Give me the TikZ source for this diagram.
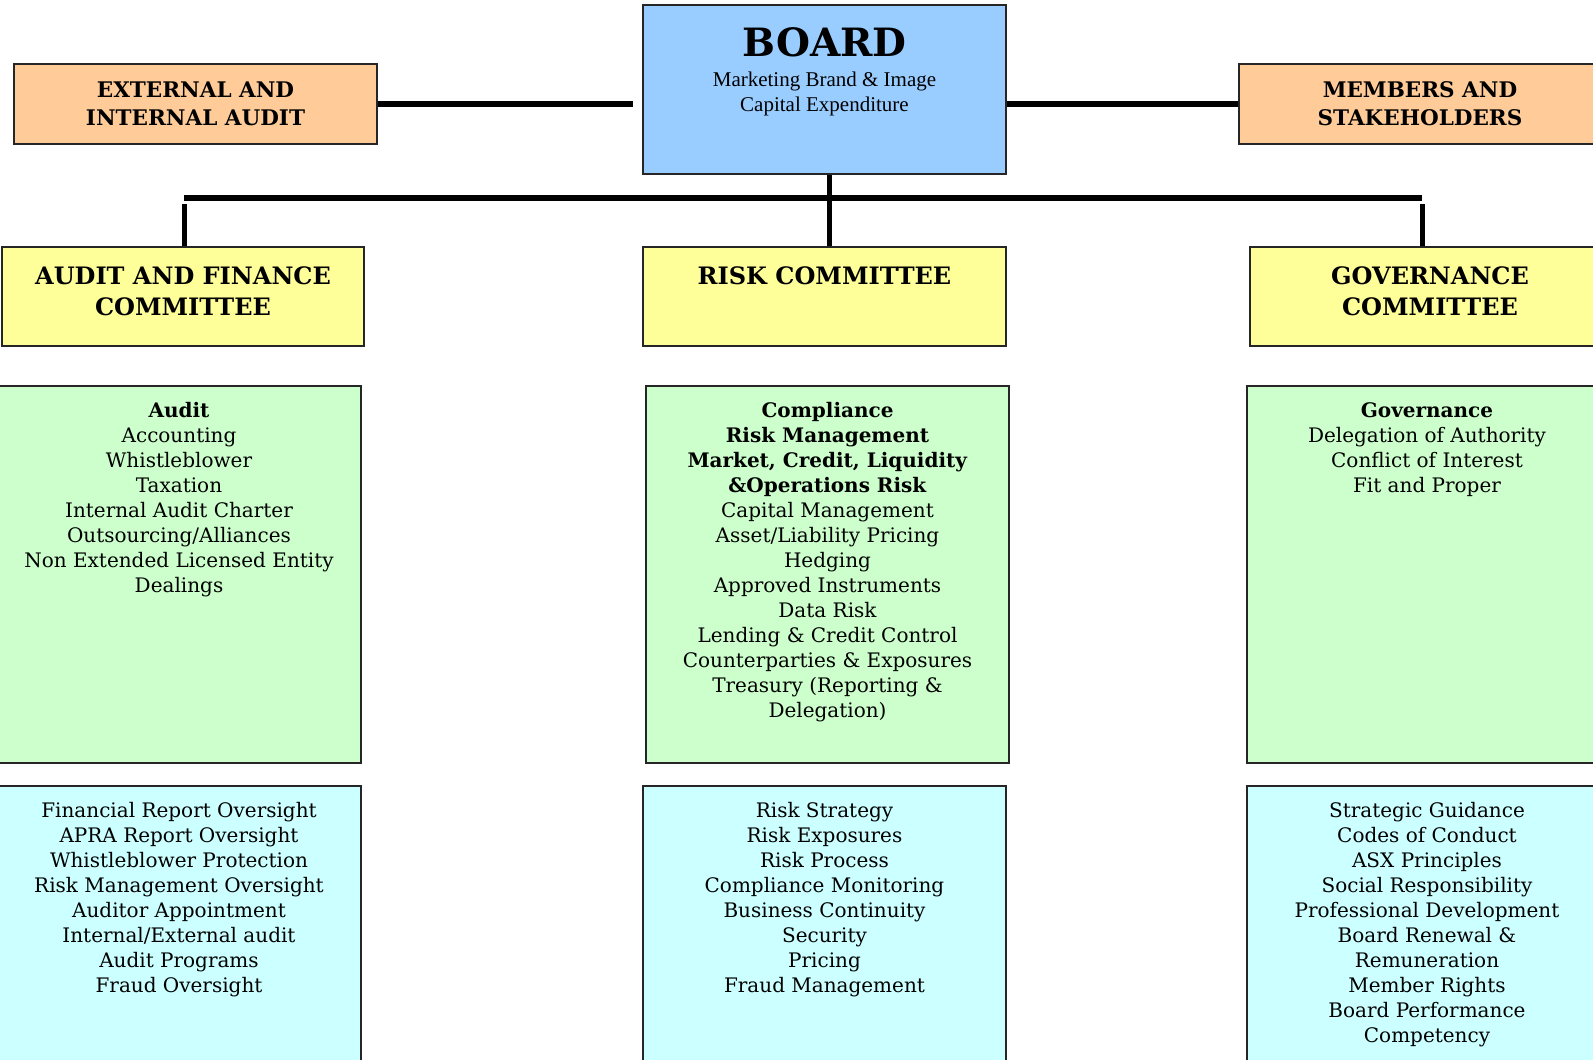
\documentclass[tikz,border=0pt]{standalone}
\usepackage{fontspec}
\setmainfont{DejaVu Serif}
\newfontfamily\boardfont{Liberation Serif}
\usetikzlibrary{positioning}

\definecolor{boardblue}{HTML}{99CCFF}
\definecolor{partyorange}{HTML}{FFCC99}
\definecolor{committeeyellow}{HTML}{FFFF99}
\definecolor{topicgreen}{HTML}{CCFFCC}
\definecolor{dutycyan}{HTML}{CCFFFF}

\def\colwidth{363}   % width of one column box
\def\committeey{296.5} % centre of the yellow row
\def\topicy{574.5}   % centre of the green row
\def\dutyy{928}      % centre of the cyan row

\begin{document}
\begin{tikzpicture}[x=1pt, y=-1pt,
    panel/.style     = {draw=black!85, line width=1.6pt, inner sep=0pt,
                        minimum width=\colwidth pt},
    party/.style     = {panel, fill=partyorange, minimum height=80pt, align=center,
                        font=\bfseries\fontsize{21.5}{28}\selectfont},
    committee/.style = {panel, fill=committeeyellow, minimum height=99pt},
    topics/.style    = {panel, fill=topicgreen, minimum height=377pt},
    duties/.style    = {panel, fill=dutycyan, minimum height=284pt},
    heading/.style   = {inner sep=0pt, align=center,
                        font=\bfseries\fontsize{24}{31}\selectfont},
    listing/.style   = {inner sep=0pt, align=center,
                        font=\fontsize{20}{25}\selectfont},
    link/.style      = {line width=6pt},
    drop/.style      = {line width=5pt}
  ]
  \useasboundingbox (0,0) rectangle (1593,1060);
  \clip (0,0) rectangle (1593,1060);

  % Board and the two outside parties
  \node[panel, fill=boardblue, minimum height=169pt] (board) at (824.5,89.5) {};
  \node[below=23pt of board.north, inner sep=0pt,
        font=\bfseries\fontsize{39}{39}\selectfont] (boardtitle) {BOARD};
  \node[below=68pt of board.north, inner sep=0pt, align=center,
        font=\boardfont\fontsize{21}{25}\selectfont] (boardtopics)
    {Marketing Brand \& Image\\Capital Expenditure};
  \node[party] (audit) at (195.5,104) {EXTERNAL AND\\INTERNAL AUDIT};
  \node[party, minimum width=362pt] (members) at (1420,104) {MEMBERS AND\\STAKEHOLDERS};

  % Committees
  \node[committee, minimum width=362pt] (afc) at (183,\committeey) {};
  \node[heading, below=20pt of afc.north] (afchead) {AUDIT AND FINANCE\\COMMITTEE};
  \node[committee] (riskc) at (824.5,\committeey) {};
  \node[heading, below=20pt of riskc.north] (riskchead) {RISK COMMITTEE};
  \node[committee, minimum width=360pt] (govc) at (1430,\committeey) {};
  \node[heading, below=20pt of govc.north] (govchead) {GOVERNANCE\\COMMITTEE};

  % What each committee looks after
  \node[topics, minimum width=364pt] (afctopics) at (179,\topicy) {};
  \node[listing, below=17pt of afctopics.north] (afctopicslist)
    {\textbf{Audit}\\Accounting\\Whistleblower\\Taxation\\Internal Audit Charter\\
     Outsourcing/Alliances\\Non Extended Licensed Entity\\Dealings};
  \node[topics] (risktopics) at (827.5,\topicy) {};
  \node[listing, below=17pt of risktopics.north] (risktopicslist)
    {\textbf{Compliance}\\\textbf{Risk Management}\\\textbf{Market, Credit, Liquidity}\\
     \textbf{\&Operations Risk}\\Capital Management\\Asset/Liability Pricing\\Hedging\\
     Approved Instruments\\Data Risk\\Lending \& Credit Control\\
     Counterparties \& Exposures\\Treasury (Reporting \&\\Delegation)};
  \node[topics, minimum width=360pt] (govtopics) at (1427,\topicy) {};
  \node[listing, below=17pt of govtopics.north] (govtopicslist)
    {\textbf{Governance}\\Delegation of Authority\\Conflict of Interest\\Fit and Proper};

  % Oversight duties
  \node[duties, minimum width=364pt] (afcduties) at (179,\dutyy) {};
  \node[listing, below=17pt of afcduties.north] (afcdutieslist)
    {Financial Report Oversight\\APRA Report Oversight\\Whistleblower Protection\\
     Risk Management Oversight\\Auditor Appointment\\Internal/External audit\\
     Audit Programs\\Fraud Oversight};
  \node[duties] (riskduties) at (824.5,\dutyy) {};
  \node[listing, below=17pt of riskduties.north] (riskdutieslist)
    {Risk Strategy\\Risk Exposures\\Risk Process\\Compliance Monitoring\\
     Business Continuity\\Security\\Pricing\\Fraud Management};
  \node[duties, minimum width=360pt] (govduties) at (1427,\dutyy) {};
  \node[listing, below=17pt of govduties.north] (govdutieslist)
    {Strategic Guidance\\Codes of Conduct\\ASX Principles\\Social Responsibility\\
     Professional Development\\Board Renewal \&\\Remuneration\\Member Rights\\
     Board Performance\\Competency};

  % Connectors
  \coordinate (auditend) at (633,104);
  \coordinate (busleft)  at (184,198);
  \coordinate (busmid)   at (829,198);
  \coordinate (busright) at (1422,198);
  \draw[link] (audit.east) -- (auditend);
  \draw[link] (board.east |- members.west) -- (members.west);
  \draw[link] (busleft) -- (busright);
  \draw[drop] (busmid |- board.south) -- (busmid |- riskc.north);
  \draw[drop] ([yshift=-6pt]busleft) -- (busleft |- afc.north);
  \draw[drop] ([yshift=-6pt]busright) -- (busright |- govc.north);
\end{tikzpicture}
\end{document}
